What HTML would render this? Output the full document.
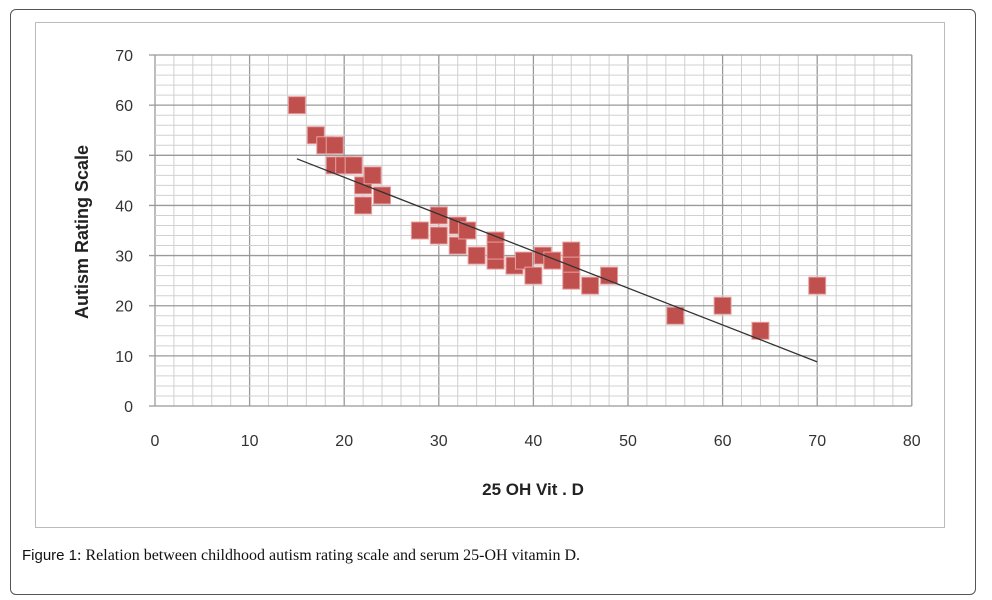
<!DOCTYPE html>
<html><head><meta charset="utf-8"><style>
body{margin:0;background:#fff;width:992px;height:600px;overflow:hidden;font-family:"Liberation Sans",sans-serif}
#frame{position:absolute;left:10px;top:9px;width:964px;height:584px;border:1px solid #555;border-radius:6px}
#chartbox{position:absolute;left:35px;top:22px;width:908px;height:504px;border:1px solid #bbb}
#cap{position:absolute;left:22px;top:547px;font-family:"Liberation Serif",serif;font-size:16px;color:#111}
</style></head><body>
<div id="frame"></div>
<div id="chartbox"></div>
<svg id="chart" width="992" height="600" style="position:absolute;left:0;top:0"></svg>
<div id="cap"><span style="font-family:'Liberation Sans',sans-serif;font-size:15px">Figure 1</span>: Relation between childhood autism rating scale and serum 25-OH vitamin D.</div>
<script>
const xVals=[15,17,18,19,19,20,21,22,22,23,24,28,30,30,32,32,33,34,36,36,36,38,39,40,41,42,44,44,44,46,48,55,60,64,70];
const yVals=[60,54,52,52,48,48,48,44,40,46,42,35,38,34,36,32,35,30,33,29,31,28,29,26,30,29,31,28,25,24,26,18,20,15,24];
const trendX=[15,70];
const trendY=[49.3,8.8];
const xTicks=[0,10,20,30,40,50,60,70,80];
const yTicks=[0,10,20,30,40,50,60,70];
const NS="http://www.w3.org/2000/svg";
const svg=document.getElementById('chart');
const X=v=>155+v*9.46, Y=v=>406-v*5.014;
function mk(t,a){const e=document.createElementNS(NS,t);for(const k in a)e.setAttribute(k,a[k]);svg.appendChild(e);return e;}
for(let v=0;v<=80;v+=2){const e=mk('line',{x1:X(v),x2:X(v),y1:Y(0),y2:Y(70),stroke:v%10?'#d0d0d0':'#999','stroke-width':v%10?1:1.3});
}
for(let v=0;v<=70;v+=2){const e=mk('line',{x1:X(0)-6,x2:X(80),y1:Y(v),y2:Y(v),stroke:v%10?'#d0d0d0':'#999','stroke-width':v%10?1:1.3});
if(v%10)e.setAttribute('x1',X(0));
}
xTicks.forEach(v=>{const t=mk('text',{x:X(v),y:446,'text-anchor':'middle','font-size':16,fill:'#333'});t.textContent=v;
});
yTicks.forEach(v=>{const t=mk('text',{x:133,y:Y(v)+6,'text-anchor':'end','font-size':16,fill:'#333'});t.textContent=v;
});
xVals.forEach((v,i)=>{const r=mk('rect',{x:X(v)-8.5,y:Y(yVals[i])-8.5,width:17,height:17,fill:'#c0504d',stroke:'#e8a0a0','stroke-width':1});
});
const tl=mk('line',{x1:X(trendX[0]),y1:Y(trendY[0]),x2:X(trendX[1]),y2:Y(trendY[1]),stroke:'#333','stroke-width':1.3});

const xt=mk('text',{x:533,y:495,'text-anchor':'middle','font-size':17,'font-weight':'bold',fill:'#222'});xt.textContent='25 OH  Vit . D';

const yt=mk('text',{x:0,y:0,'text-anchor':'middle','font-size':18,'font-weight':'bold',fill:'#222',transform:'translate(88,232) rotate(-90)'});yt.textContent='Autism Rating Scale';

</script>
</body></html>
